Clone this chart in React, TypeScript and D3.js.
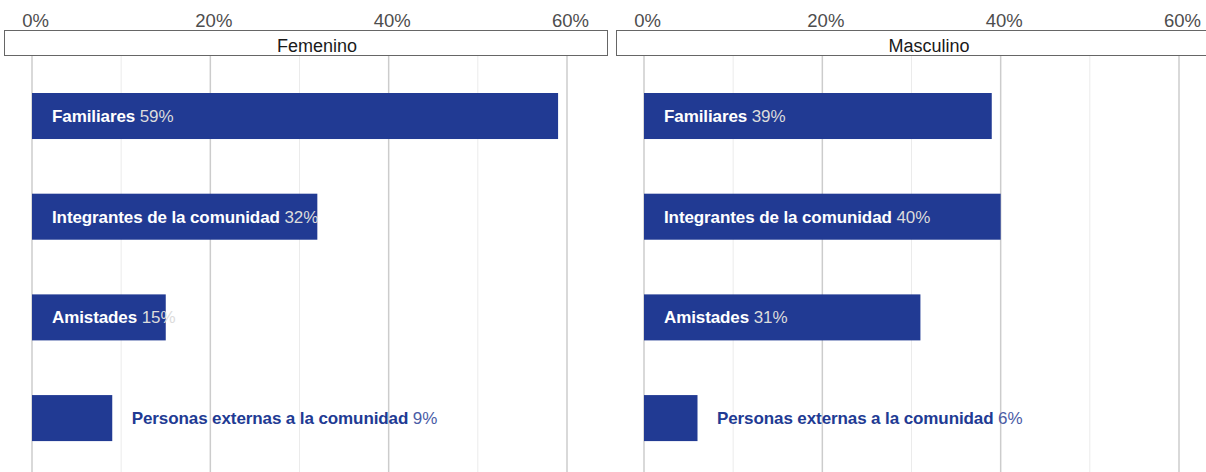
import React, { useEffect, useRef } from 'react';
import * as d3 from 'd3';

const categories = ['Familiares', 'Integrantes de la comunidad', 'Amistades', 'Personas externas a la comunidad'];
const panels = ['Femenino', 'Masculino'];
const femenino = [59, 32, 15, 9];
const masculino = [39, 40, 31, 6];
const majorTicks = [0, 20, 40, 60];
const minorTicks = [10, 30, 50];

const BAR = '#213a93';
const FONT = '"Liberation Sans", Arial, Helvetica, sans-serif';

const App = () => {
  const svgRef = useRef<SVGSVGElement>(null);

  useEffect(() => {
    const width = 1206;
    const height = 472;
    const panelWidth = 603;
    const panelGap = 9;
    const stripTop = 30;
    const stripBottom = 56;

    const svg = d3.select(svgRef.current);
    svg.selectAll('*').remove();
    svg.attr('width', width).attr('height', height);

    const y = d3
      .scaleBand<string>()
      .domain(categories)
      .range([62.8, 471.3])
      .paddingInner(0.543)
      .paddingOuter(0.3);

    const seriesList = [femenino, masculino];

    panels.forEach((name, p) => {
      const left = 4 + p * (panelWidth + panelGap);
      const x = d3.scaleLinear().domain([0, 60]).range([left + 28, left + 28 + 535]);
      const values = seriesList[p];
      const g = svg.append('g');

      // grid
      g.selectAll('.minor')
        .data(minorTicks)
        .enter()
        .append('line')
        .attr('x1', (d) => x(d))
        .attr('x2', (d) => x(d))
        .attr('y1', stripBottom)
        .attr('y2', height)
        .attr('stroke', '#ebebeb')
        .attr('stroke-width', 1);

      g.selectAll('.major')
        .data(majorTicks)
        .enter()
        .append('line')
        .attr('x1', (d) => x(d))
        .attr('x2', (d) => x(d))
        .attr('y1', stripBottom)
        .attr('y2', height)
        .attr('stroke', '#cccccc')
        .attr('stroke-width', 1.5);

      // top axis labels
      g.selectAll('.tick')
        .data(majorTicks)
        .enter()
        .append('text')
        .attr('x', (d) => x(d) + 3.5)
        .attr('y', 27)
        .attr('text-anchor', 'middle')
        .attr('font-family', FONT)
        .attr('font-size', 18.5)
        .attr('fill', '#4d4d4d')
        .text((d) => `${d}%`);

      // strip
      g.append('rect')
        .attr('x', left + 0.5)
        .attr('y', stripTop + 0.5)
        .attr('width', panelWidth)
        .attr('height', stripBottom - stripTop - 1)
        .attr('fill', 'white')
        .attr('stroke', '#666666')
        .attr('stroke-width', 1);

      g.append('text')
        .attr('x', left + 313)
        .attr('y', stripTop + 22)
        .attr('text-anchor', 'middle')
        .attr('font-family', FONT)
        .attr('font-size', 18)
        .attr('fill', '#1a1a1a')
        .text(name);

      // bars
      g.selectAll('.bar')
        .data(values)
        .enter()
        .append('rect')
        .attr('x', x(0))
        .attr('y', (d, i) => y(categories[i]) as number)
        .attr('width', (d) => x(d) - x(0))
        .attr('height', y.bandwidth())
        .attr('fill', BAR);

      // labels
      values.forEach((v, i) => {
        const inside = v >= 10;
        const t = g
          .append('text')
          .attr('x', inside ? x(0) + 20 : x(v) + 19.5)
          .attr('y', (y(categories[i]) as number) + y.bandwidth() / 2)
          .attr('dy', '0.35em')
          .attr('font-family', FONT)
          .attr('font-size', 17)
          .attr('letter-spacing', '-0.1px');
        t.append('tspan')
          .attr('font-weight', 'bold')
          .attr('fill', inside ? '#ffffff' : BAR)
          .text(categories[i]);
        t.append('tspan')
          .attr('fill', inside ? '#dcdcdc' : '#4a5ca6')
          .text(` ${v}%`);
      });
    });
  }, []);

  return (
    <svg
      ref={svgRef}
      style={{ position: 'absolute', left: 0, top: 0, background: 'white' }}
    ></svg>
  );
};

export default App;
